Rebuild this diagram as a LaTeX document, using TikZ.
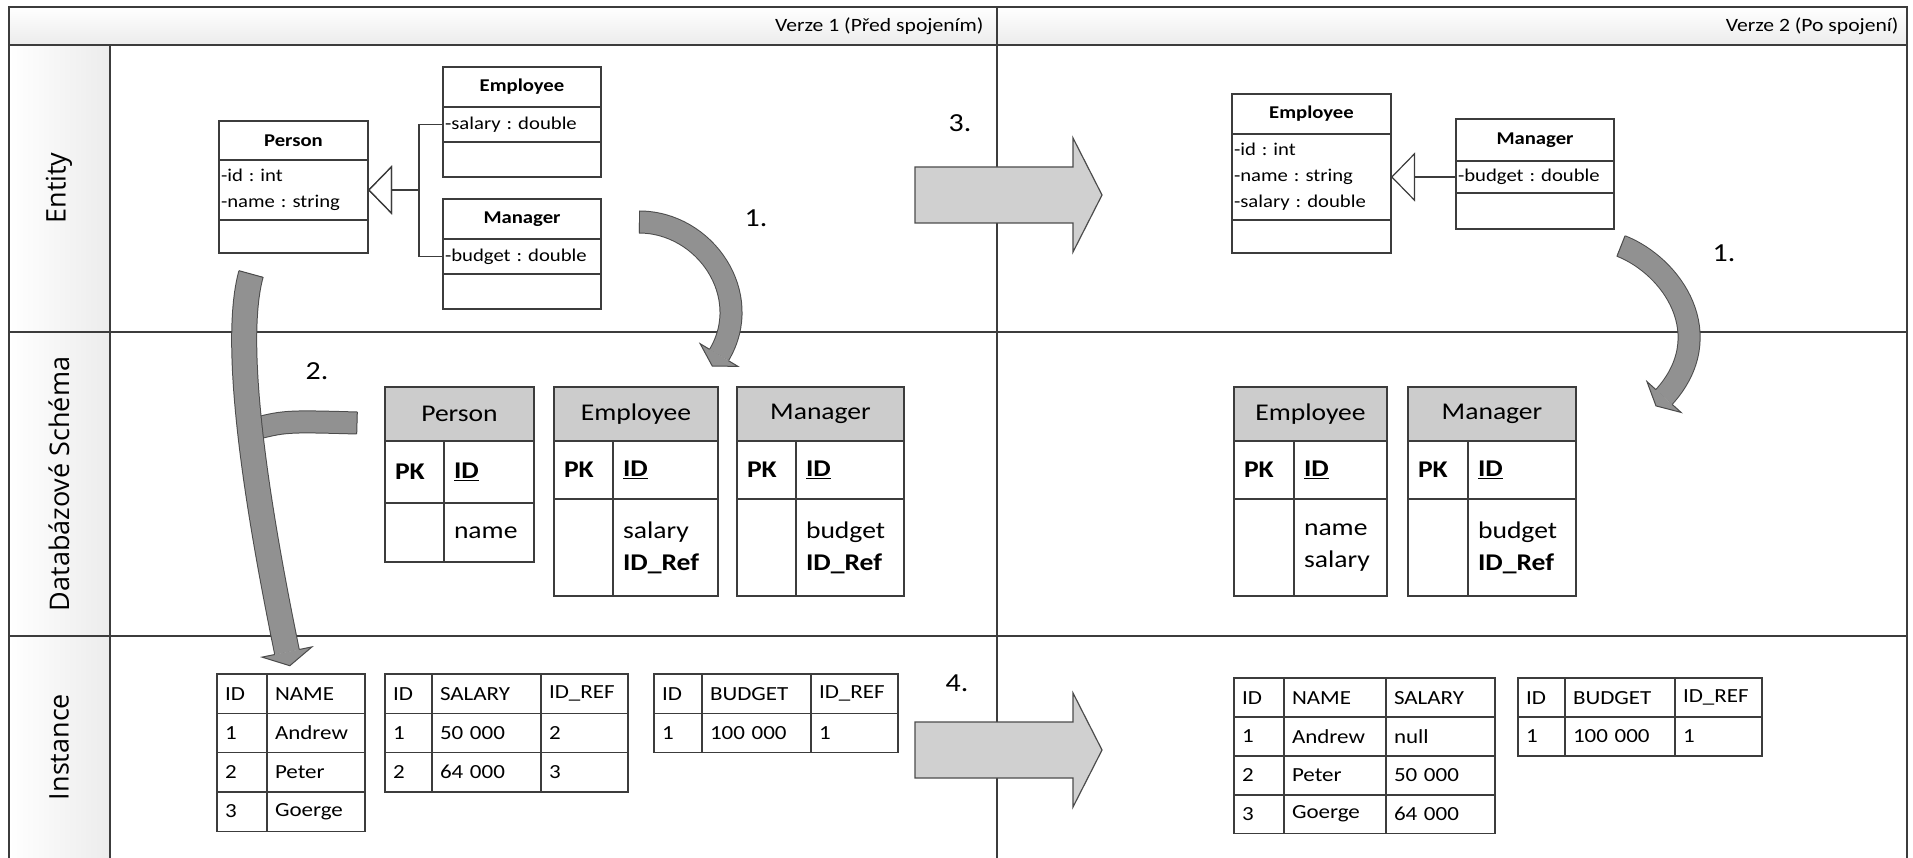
\documentclass[tikz,border=0pt]{standalone}
\usepackage{fontspec}
\setmainfont{Carlito}[FakeStretch=1.15]
\newfontfamily\lanefont{Open Sans}
\usetikzlibrary{positioning,calc,arrows.meta}
\frenchspacing

\definecolor{framegray}{RGB}{60,60,60}
\definecolor{headgray}{RGB}{204,204,204}
\definecolor{blockfill}{RGB}{208,208,208}
\definecolor{bentfill}{RGB}{145,145,145}
\definecolor{bentline}{RGB}{75,75,75}

\newcommand\umlfont{\fontsize{18}{26}\selectfont}
\newcommand\dbfont{\fontsize{24}{32}\selectfont}
\newcommand\rowfont{\fontsize{20}{24}\selectfont}

% bent arrow: start, control 1, control 2, head base, half band, half head, head length
\newcommand\bentarrow[7]{%
  \draw[bentbody, double distance=2*#5-1pt] (#1) .. controls (#2) and (#3) .. (#4);
  \draw[draw=bentline, line width=1pt] ($(#1)!#5!90:(#2)$) -- ($(#1)!#5!-90:(#2)$);
  \filldraw[fill=bentfill, draw=bentline, line width=1pt]
    ($(#4)!#5!90:(#3)$) -- ($(#4)!#6!90:(#3)$) -- ($(#4)!-#7!(#3)$)
    -- ($(#4)!#6!-90:(#3)$) -- ($(#4)!#5!-90:(#3)$);
}
% block arrow, body starts at #1
\newcommand\blockarrow[1]{%
  \draw[blockstyle] (#1) ++(0,-27.5) -- ++(158,0) -- ++(0,-29) -- ++(29,57)
    -- ++(-29,57) -- ++(0,-29) -- ++(-158,0) -- cycle;
}

\begin{document}
\begin{tikzpicture}[x=1pt, y=-1pt,
  frame/.style={draw=framegray, line width=1.8pt},
  umlbox/.style={draw=framegray, line width=1.4pt, anchor=north west,
    outer sep=0pt, inner xsep=2pt, inner ysep=0pt, align=left, font=\umlfont},
  umlname/.style={umlbox, align=center, font=\umlfont\bfseries},
  inherit/.style={draw=framegray, line width=1.2pt,
    -{Triangle[open, length=24pt, width=49pt]}},
  dbhead/.style={draw=framegray, line width=1.5pt, fill=headgray,
    anchor=north west, outer sep=0pt, inner xsep=10pt, inner ysep=0pt,
    minimum height=54pt, align=center, font=\dbfont},
  dbcell/.style={draw=framegray, line width=1.5pt, anchor=north west,
    outer sep=0pt, inner xsep=10pt, inner ysep=0pt, align=left, font=\dbfont},
  rowcell/.style={draw=framegray, line width=1.3pt, anchor=north west,
    outer sep=0pt, inner xsep=8pt, inner ysep=0pt, minimum height=39.3pt,
    align=left, font=\rowfont},
  blockstyle/.style={draw=black!70, line width=1.2pt, fill=blockfill},
  bentbody/.style={draw=bentline, line width=1pt, double=bentfill},
  numlabel/.style={font=\fontsize{26}{30}\selectfont},
  lanelabel/.style={rotate=90, font=\lanefont\fontsize{27}{30}\selectfont},
  verlabel/.style={anchor=east, font=\fontsize{18.8}{22}\selectfont}]

\useasboundingbox (0,0) rectangle (1913,858);

% swimlanes
\fill[top color=white, bottom color=gray!15] (9,7) rectangle (1907,45);
\fill[left color=white, right color=gray!15] (9,45) rectangle (110,858);
\draw[frame] (9,858) -- (9,7) -- (1907,7) -- (1907,858);
\draw[frame] (9,45) -- (1907,45);
\draw[frame] (110,45) -- (110,858);
\draw[frame] (997,7) -- (997,858);
\draw[frame] (9,332) -- (1907,332);
\draw[frame] (9,636) -- (1907,636);

\node[verlabel] (ver1) at (987,26) {Verze 1 (Před spojením)};
\node[verlabel] (ver2) at (1902,26) {Verze 2 (Po spojení)};
\node[lanelabel] (laneent) at (59,188) {Entity};
\node[lanelabel] (lanedb) at (59,484) {Databázové Schéma};
\node[lanelabel] (laneinst) at (59,747) {Instance};

% entities, version 1
\node[umlname, text width=145pt, minimum height=39pt] (p1name) at (219,121) {Person};
\node[umlbox, text width=145pt, minimum height=60pt, below=0pt of p1name] (p1attr)
  {-id : int\\-name : string};
\node[umlbox, text width=145pt, minimum height=33pt, below=0pt of p1attr] (p1ops) {};

\node[umlname, text width=154pt, minimum height=40pt] (e1name) at (443,67) {Employee};
\node[umlbox, text width=154pt, minimum height=35pt, below=0pt of e1name] (e1attr)
  {-salary : double};
\node[umlbox, text width=154pt, minimum height=35pt, below=0pt of e1attr] (e1ops) {};

\node[umlname, text width=154pt, minimum height=40pt] (m1name) at (443,199) {Manager};
\node[umlbox, text width=154pt, minimum height=35pt, below=0pt of m1name] (m1attr)
  {-budget : double};
\node[umlbox, text width=154pt, minimum height=35pt, below=0pt of m1attr] (m1ops) {};

\draw[inherit] (e1attr.west) -- ++(-24,0) |- (p1attr.east);
\draw[inherit] (m1attr.west) -- ++(-24,0) |- (p1attr.east);

% entities, version 2
\node[umlname, text width=155pt, minimum height=40pt] (e2name) at (1232,94) {Employee};
\node[umlbox, text width=155pt, minimum height=86pt, below=0pt of e2name] (e2attr)
  {-id : int\\-name : string\\-salary : double};
\node[umlbox, text width=155pt, minimum height=33pt, below=0pt of e2attr] (e2ops) {};

\node[umlname, text width=154pt, minimum height=42pt] (m2name) at (1456,119) {Manager};
\node[umlbox, text width=154pt, minimum height=32pt, below=0pt of m2name] (m2attr)
  {-budget : double};
\node[umlbox, text width=154pt, minimum height=36pt, below=0pt of m2attr] (m2ops) {};

\draw[inherit] (m2attr.west) -- (m2attr.west -| e2attr.east);

% database schema, version 1
\node[dbhead, text width=129pt] (s1p) at (385,387) {Person};
\node[dbcell, text width=39pt, minimum height=62pt] (s1p-pk) at (s1p.south west) {\textbf{PK}};
\node[dbcell, text width=70pt, minimum height=62pt] (s1p-id) at (s1p-pk.north east) {\textbf{\underline{ID}}};
\node[dbcell, text width=39pt, minimum height=59pt] (s1p-c1) at (s1p-pk.south west) {};
\node[dbcell, text width=70pt, minimum height=59pt] (s1p-c2) at (s1p-c1.north east) {name};

\node[dbhead, text width=144pt] (s1e) at (554,387) {Employee};
\node[dbcell, text width=39pt, minimum height=58pt] (s1e-pk) at (s1e.south west) {\textbf{PK}};
\node[dbcell, text width=85pt, minimum height=58pt] (s1e-id) at (s1e-pk.north east) {\textbf{\underline{ID}}};
\node[dbcell, text width=39pt, minimum height=97pt] (s1e-c1) at (s1e-pk.south west) {};
\node[dbcell, text width=85pt, minimum height=97pt] (s1e-c2) at (s1e-c1.north east)
  {salary\\\textbf{ID\_Ref}};

\node[dbhead, text width=147pt] (s1m) at (737,387) {Manager};
\node[dbcell, text width=39pt, minimum height=58pt] (s1m-pk) at (s1m.south west) {\textbf{PK}};
\node[dbcell, text width=88pt, minimum height=58pt] (s1m-id) at (s1m-pk.north east) {\textbf{\underline{ID}}};
\node[dbcell, text width=39pt, minimum height=97pt] (s1m-c1) at (s1m-pk.south west) {};
\node[dbcell, text width=88pt, minimum height=97pt] (s1m-c2) at (s1m-c1.north east)
  {budget\\\textbf{ID\_Ref}};

% database schema, version 2
\node[dbhead, text width=133pt] (s2e) at (1234,387) {Employee};
\node[dbcell, text width=40pt, minimum height=58pt] (s2e-pk) at (s2e.south west) {\textbf{PK}};
\node[dbcell, text width=73pt, minimum height=58pt] (s2e-id) at (s2e-pk.north east) {\textbf{\underline{ID}}};
\node[dbcell, text width=40pt, minimum height=97pt] (s2e-c1) at (s2e-pk.south west) {};
\node[dbcell, text width=73pt, minimum height=97pt] (s2e-c2) at (s2e-c1.north east)
  {name\\salary};

\node[dbhead, text width=148pt] (s2m) at (1408,387) {Manager};
\node[dbcell, text width=40pt, minimum height=58pt] (s2m-pk) at (s2m.south west) {\textbf{PK}};
\node[dbcell, text width=88pt, minimum height=58pt] (s2m-id) at (s2m-pk.north east) {\textbf{\underline{ID}}};
\node[dbcell, text width=40pt, minimum height=97pt] (s2m-c1) at (s2m-pk.south west) {};
\node[dbcell, text width=88pt, minimum height=97pt] (s2m-c2) at (s2m-c1.north east)
  {budget\\\textbf{ID\_Ref}};

% instances, version 1
\foreach \a/\b [count=\r] in {ID/NAME, 1/Andrew, 2/Peter, 3/Goerge}{
  \node[rowcell, text width=34pt] (i1-\r-1) at (217,{674+39.3*(\r-1)}) {\a};
  \node[rowcell, text width=82pt] (i1-\r-2) at (i1-\r-1.north east) {\b};
}
\foreach \a/\b/\c [count=\r] in {ID/SALARY/ID\_REF, 1/50 000/2, 2/64 000/3}{
  \node[rowcell, text width=31pt] (i2-\r-1) at (385,{674+39.3*(\r-1)}) {\a};
  \node[rowcell, text width=93pt] (i2-\r-2) at (i2-\r-1.north east) {\b};
  \node[rowcell, text width=71pt] (i2-\r-3) at (i2-\r-2.north east) {\c};
}
\foreach \a/\b/\c [count=\r] in {ID/BUDGET/ID\_REF, 1/100 000/1}{
  \node[rowcell, text width=32pt] (i3-\r-1) at (654,{674+39.3*(\r-1)}) {\a};
  \node[rowcell, text width=93pt] (i3-\r-2) at (i3-\r-1.north east) {\b};
  \node[rowcell, text width=71pt] (i3-\r-3) at (i3-\r-2.north east) {\c};
}

% instances, version 2
\foreach \a/\b/\c [count=\r] in {ID/NAME/SALARY, 1/Andrew/null, 2/Peter/50 000, 3/Goerge/64 000}{
  \node[rowcell, text width=34pt] (j1-\r-1) at (1234,{678+38.8*(\r-1)}) {\a};
  \node[rowcell, text width=86pt] (j1-\r-2) at (j1-\r-1.north east) {\b};
  \node[rowcell, text width=93pt] (j1-\r-3) at (j1-\r-2.north east) {\c};
}
\foreach \a/\b/\c [count=\r] in {ID/BUDGET/ID\_REF, 1/100 000/1}{
  \node[rowcell, text width=31pt] (j2-\r-1) at (1518,{678+38.8*(\r-1)}) {\a};
  \node[rowcell, text width=94pt] (j2-\r-2) at (j2-\r-1.north east) {\b};
  \node[rowcell, text width=71pt] (j2-\r-3) at (j2-\r-2.north east) {\c};
}

% transformation arrows
\coordinate (blk3) at (915,194.5);
\coordinate (blk4) at (915,749.5);
\blockarrow{blk3}
\blockarrow{blk4}

\coordinate (one1s) at (639,222);
\coordinate (one1a) at (705,222);
\coordinate (one1b) at (755,295);
\coordinate (one1e) at (719,355);
\bentarrow{one1s}{one1a}{one1b}{one1e}{11pt}{22pt}{13pt}

\coordinate (one2s) at (1621,246);
\coordinate (one2a) at (1672,266);
\coordinate (one2b) at (1720,335);
\coordinate (one2e) at (1664,397);
\bentarrow{one2s}{one2a}{one2b}{one2e}{11pt}{23pt}{12pt}

% branch of step 2 into the schema
\coordinate (two1s) at (250,430);
\coordinate (two1a) at (285,421);
\coordinate (two1e) at (357,423);
\draw[bentbody, double distance=21pt] (two1s) .. controls (two1a) .. (two1e);
\draw[draw=bentline, line width=1pt] ($(two1e)!11pt!90:(two1a)$) -- ($(two1e)!11pt!-90:(two1a)$);

\coordinate (two2s) at (251,274);
\coordinate (two2a) at (230,350);
\coordinate (two2b) at (262,530);
\coordinate (two2e) at (287,652);
\bentarrow{two2s}{two2a}{two2b}{two2e}{12.5pt}{25.5pt}{14pt}

\node[numlabel] (lab1a) at (756,218) {1.};
\node[numlabel] (lab1b) at (1724,253) {1.};
\node[numlabel] (lab2) at (317,371) {2.};
\node[numlabel] (lab3) at (960,123) {3.};
\node[numlabel] (lab4) at (957,683) {4.};
\end{tikzpicture}
\end{document}
